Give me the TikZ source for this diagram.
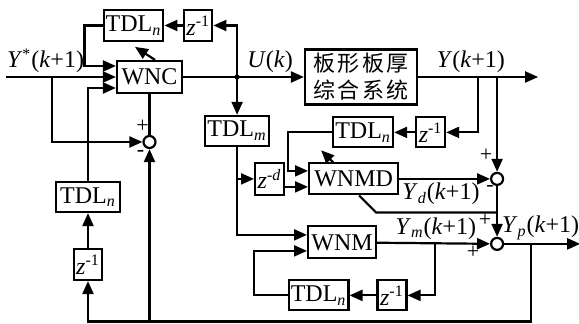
\documentclass[tikz,border=0pt]{standalone}
\usepackage{fontspec}
\setmainfont{Liberation Serif}
\newfontfamily\cjk[LetterSpace=12]{Noto Sans CJK SC}
\usepackage{tikz}
\usetikzlibrary{arrows.meta,positioning}

\newcommand{\tdl}[1]{TDL\textsubscript{\textit{#1}}}
\newcommand{\zpow}[1]{\textit{z}\textsuperscript{-#1}}
\newcommand{\yk}[1]{\textit{Y}\textsubscript{\textit{#1}}(\textit{k}+1)}

\begin{document}
\begin{tikzpicture}[
  x=0.5pt,y=-0.5pt,
  font=\fontsize{12}{14}\selectfont,
  >={Triangle[length=6.5pt,width=5.5pt]},
  line/.style={->,line width=1.1pt},
  wire/.style={line width=1.1pt},
  blk/.style={draw,line width=1.1pt,minimum height=15.5pt,inner sep=1pt},
  sum/.style={circle,draw,line width=1.1pt,minimum size=6pt,inner sep=0pt},
  sign/.style={font=\fontsize{11}{12}\selectfont,inner sep=0pt},
  lbl/.style={inner sep=1.5pt}
]
\useasboundingbox (0,0) rectangle (579,324);

% controller
\node[blk,minimum width=32.5pt,minimum height=16pt] (wnc) at (149.5,77) {WNC};
\node[blk,minimum width=29.5pt,above=8.9pt of wnc,xshift=-8pt] (tdlA) {\tdl{n}};
\node[blk,minimum width=14pt,right=9.4pt of tdlA] (zA) {\zpow{1}};
\node[sum,below=20.4pt of wnc] (sumA) {};
\node[blk,minimum width=32pt,minimum height=15pt,below=43.4pt of wnc,xshift=-30.75pt] (tdlD) {\tdl{n}};
\node[blk,minimum width=14pt,below=17.4pt of tdlD] (zD) {\zpow{1}};

% plant
\node[blk,minimum width=56pt,minimum height=27.5pt,align=center,
      font=\cjk\fontsize{11}{13.5}\selectfont,right=60.4pt of wnc] (plant)
  {板形板厚\\综合系统};
\coordinate[right=27pt of wnc.east] (jn);
\coordinate[left=55pt of wnc.west] (yin);
\coordinate[left=32pt of wnc.west] (ybr);
\coordinate[right=30pt of plant.east] (yb1);
\coordinate[right=60pt of plant.east] (yout);
\coordinate (bot) at (0,321.5);

% models
\node[blk,minimum width=32pt,minimum height=15pt,below=18.9pt of jn] (tdlm) {\tdl{m}};
\node[blk,minimum width=14.5pt,minimum height=16pt,below=7.4pt of tdlm,xshift=16.25pt] (zd) {\zpow{\textit{d}}};
\node[blk,minimum width=44.5pt,right=11.4pt of zd] (wnmd) {WNMD};
\node[blk,minimum width=30pt,minimum height=15pt,above=6.9pt of wnmd,xshift=4.75pt] (tdlB) {\tdl{n}};
\node[blk,minimum width=14.5pt,minimum height=15pt,right=10.4pt of tdlB] (zB) {\zpow{1}};
\node[blk,minimum width=34pt,minimum height=16pt,below=14.9pt of wnmd,xshift=-5.75pt] (wnm) {WNM};
\node[blk,minimum width=29.5pt,minimum height=15pt,below=9.9pt of wnm,xshift=-11.75pt] (tdlC) {\tdl{n}};
\node[blk,minimum width=14.5pt,minimum height=15pt,right=13.4pt of tdlC] (zC) {\zpow{1}};
\node[sum,right=45.4pt of wnmd] (sumB) {};
\node[sum,below=25.4pt of sumB] (sumC) {};
\coordinate[right=38pt of sumC.east] (yp);
\coordinate[right=13.5pt of sumC.east] (fb);

% signs
\node[sign] at ([shift={(-7,-16)}]sumA) {+};
\node[sign] at ([shift={(-9,12)}]sumA) {-};
\node[sign] at ([shift={(-11,-24)}]sumB) {+};
\node[sign] at ([shift={(-7,10)}]sumB) {-};
\node[sign] at ([shift={(-12,-24)}]sumC) {+};
\node[sign] at ([shift={(-24,8)}]sumC) {+};

% controller loop
\draw[line] (yin) node[above right,lbl,inner xsep=0pt]{\textit{Y}\textsuperscript{*}(\textit{k}+1)} -- (wnc);
\draw[line] (ybr) |- (sumA);
\draw[wire] (wnc) -- (sumA);
\draw[line] (wnc) -- node[pos=0.72,above,lbl]{\textit{U}(\textit{k})} (plant);
\fill (jn) circle (1.3pt);
\draw[line] (jn) |- (zA);
\draw[line] (zA) -- (tdlA);
\draw[line] (tdlA.west) -- ++(-18,0) |- ([yshift=5.5pt]wnc.west);
\draw[line] (zD) -- (tdlD);
\draw[line] (tdlD) |- ([yshift=-5.5pt]wnc.west);
\draw[line] ([xshift=2.75pt]wnc.north) -- ++(-20,-13);

% plant output
\draw[line] (plant) -- node[pos=0.44,above,lbl]{\textit{Y}(\textit{k}+1)} (yout);
\draw[line] (yb1) |- (zB);
\draw[line] (zB) -- (tdlB);
\draw[line] (tdlB.west) -- ++(-44,0) |- ([yshift=4pt]wnmd.west);
\draw[line] (sumB |- plant.east) -- (sumB);

% model branch
\draw[line] (jn) -- (tdlm);
\draw[line] (tdlm.south) |- ([yshift=3.75pt]wnm.west);
\draw[line] (tdlm.south |- zd) -- (zd);
\draw[line] ([yshift=-4pt]zd.east) -- ([yshift=-4pt]wnmd.west);
\draw[line] (wnmd) -- node[pos=0.46,below,lbl]{\yk{d}} (sumB);
\draw[wire] ([xshift=2.75pt]wnmd.south) -- ++(17,17) coordinate (dk) -- (dk -| sumB);
\draw[line] ([xshift=-10.25pt]wnmd.north) -- ++(-12,-12);
\draw[line] (sumB) -- (sumC);
\draw[line] (wnm) -- node[pos=0.52,above,lbl]{\yk{m}} (sumC);
\draw[line] ([xshift=29pt]wnm.east) |- (zC);
\draw[line] (zC) -- (tdlC);
\draw[line] (tdlC.west) -- ++(-34,0) |- ([yshift=-4.25pt]wnm.west);
\draw[line] (sumC) -- node[pos=1,above left,lbl,inner xsep=0pt]{\yk{p}} (yp);

% feedback
\draw[line] (fb) -- (fb |- bot) -| (zD);
\draw[line] (sumA |- bot) -- (sumA);
\end{tikzpicture}
\end{document}
